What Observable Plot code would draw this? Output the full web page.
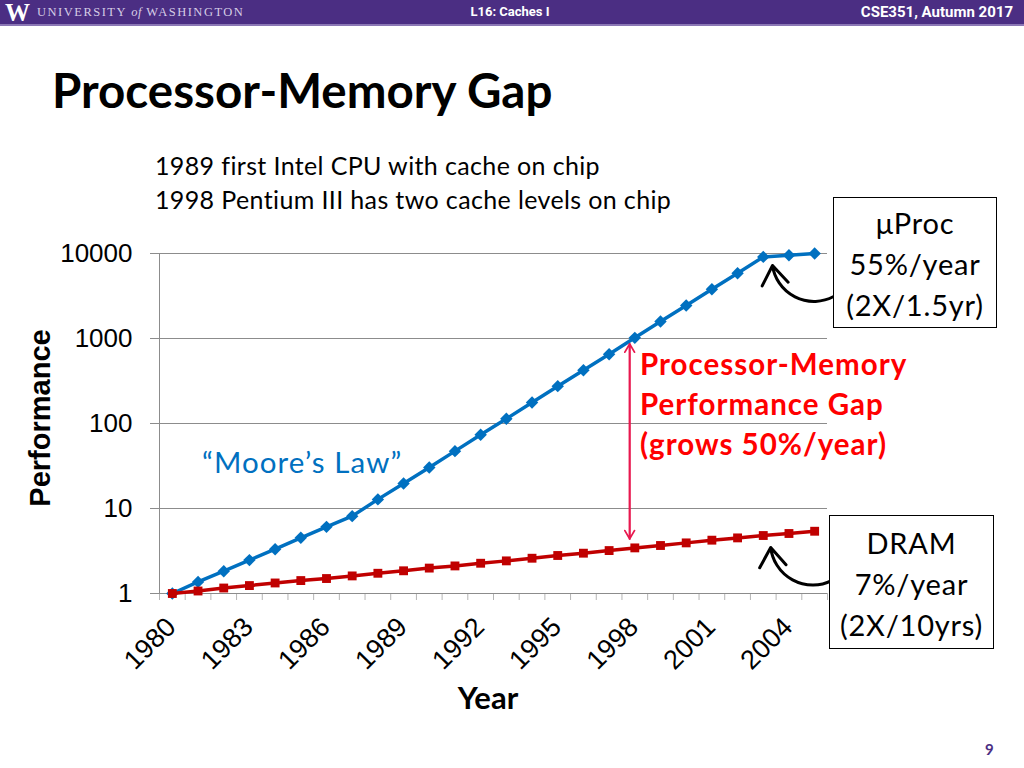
<!DOCTYPE html>
<html>
<head>
<meta charset="utf-8">
<script src="https://cdn.jsdelivr.net/npm/d3@7"></script>
<script src="https://cdn.jsdelivr.net/npm/@observablehq/plot@0.6"></script>
<style>
  html, body { margin: 0; padding: 0; background: #fff; }
  #page { position: relative; width: 1024px; height: 768px; overflow: hidden; background: #fff; }
  .abs { position: absolute; white-space: nowrap; }
  #chart { position: absolute; left: 0; top: 0; }
  .box { position: absolute; border: 1.5px solid #000; background: #fff; box-sizing: border-box;
         font-family: Lato, "Open Sans", sans-serif; font-size: 29px; letter-spacing: 0.8px; line-height: 41px; text-align: center; color: #000; }
</style>
</head>
<body>
<div id="page">
  <div class="abs" style="left:0;top:0;width:1024px;height:24px;background:#4b2e83;border-bottom:2px solid #8b77b5;"></div>
  <div class="abs" style="left:5px;top:1px;font-family:'Liberation Serif',serif;font-weight:bold;font-size:25px;line-height:24px;color:#fff;">W</div>
  <div class="abs" style="left:37px;top:5px;font-family:'Liberation Serif',serif;font-size:12.5px;line-height:15px;letter-spacing:1.5px;color:#d6cde6;">UNIVERSITY <i style="letter-spacing:0.5px">of</i> WASHINGTON</div>
  <div class="abs" style="left:460px;width:100px;text-align:center;top:4px;font-family:Roboto,sans-serif;font-weight:bold;font-size:13px;line-height:16px;color:#fff;">L16: Caches I</div>
  <div class="abs" style="right:11px;top:4px;font-family:Roboto,sans-serif;font-weight:bold;font-size:15px;line-height:16px;letter-spacing:0px;color:#fff;">CSE351, Autumn 2017</div>

  <div class="abs" style="left:52px;top:66px;font-family:Lato,sans-serif;font-weight:bold;font-size:47.5px;line-height:48px;color:#000;">Processor-Memory Gap</div>
  <div class="abs" style="left:155px;top:148px;font-family:Lato,sans-serif;font-size:25px;letter-spacing:0.37px;line-height:34px;color:#000;">1989 first Intel CPU with cache on chip<br>1998 Pentium III has two cache levels on chip</div>

  <div id="chart"></div>

  <div class="abs" style="left:640px;top:344px;font-family:Lato,sans-serif;font-weight:bold;font-size:29.5px;letter-spacing:1px;line-height:40px;color:#ff0000;">Processor-Memory<br>Performance Gap<br>(grows 50%/year)</div>
  <div class="abs" style="left:202px;top:442px;font-family:Lato,sans-serif;font-size:29.5px;letter-spacing:1.1px;line-height:40px;color:#0070c0;">“Moore’s Law”</div>

  <div class="box" style="left:833px;top:197px;width:164px;height:131px;padding-top:4px;">μProc<br>55%/year<br>(2X/1.5yr)</div>
  <div class="box" style="left:829px;top:515px;width:165px;height:134px;padding-top:6px;">DRAM<br>7%/year<br>(2X/10yrs)</div>

  <div class="abs" style="left:388px;width:200px;text-align:center;top:677px;font-family:Lato,sans-serif;font-weight:bold;font-size:31px;line-height:40px;color:#000;">Year</div>
  <div class="abs" style="left:-60px;top:400px;width:200px;height:36px;text-align:center;transform:rotate(-90deg);font-family:'Liberation Sans',Arial,sans-serif;font-weight:bold;font-size:29px;line-height:36px;color:#000;">Performance</div>

  <div class="abs" style="left:985px;top:740px;font-family:Lato,sans-serif;font-weight:bold;font-size:15px;line-height:18px;color:#4b2e83;">9</div>
</div>
<script>
// ---- data ----
const years = [1980, 1981, 1982, 1983, 1984, 1985, 1986, 1987, 1988, 1989, 1990, 1991, 1992,
               1993, 1994, 1995, 1996, 1997, 1998, 1999, 2000, 2001, 2002, 2003, 2004, 2005];
const processor = [1, 1.37, 1.83, 2.47, 3.32, 4.52, 6.08, 8.13, 12.8, 19.7, 30.4, 47.3, 73.6,
                   113.5, 176.6, 275, 424, 654, 1018, 1585, 2445, 3805, 5870, 9120, 9550, 10000];
const dram = [1, 1.07, 1.16, 1.24, 1.33, 1.42, 1.50, 1.61, 1.73, 1.85, 1.99, 2.11, 2.27,
              2.42, 2.60, 2.80, 2.98, 3.20, 3.44, 3.67, 3.94, 4.24, 4.51, 4.81, 5.08, 5.40];
const yTicks = [1, 10, 100, 1000, 10000];
const xTickLabels = [1980, 1983, 1986, 1989, 1992, 1995, 1998, 2001, 2004];
// annotation arrows (data coordinates): from the callout boxes to the series
const calloutArrows = [
  {x1: 2005.74, y1: 3120, x2: 2003.36, y2: 7230},
  {x1: 2005.66, y1: 1.42, x2: 2003.29, y2: 3.48}
];
const gapYear = 1998;

const rows = years.map((yr, i) => ({year: yr, proc: processor[i], dram: dram[i]}));
const edges = years.map(y => y - 0.5).concat([years[years.length - 1] + 0.5]);
const gi = years.indexOf(gapYear);
const gap = [{x: gapYear - 0.2, top: processor[gi], bottom: dram[gi]}];

const chart = Plot.plot({
  width: 1024,
  height: 768,
  marginLeft: 159,
  marginRight: 197,
  marginTop: 253,
  marginBottom: 175,
  style: {background: "transparent", fontFamily: "'Liberation Sans', Arial, sans-serif", color: "#000", overflow: "visible"},
  x: {domain: [edges[0], edges[edges.length - 1]], label: null},
  y: {type: "log", domain: [1, 10000], label: null},
  marks: [
    Plot.gridY(yTicks, {stroke: "#8c8c8c", strokeOpacity: 1}),
    Plot.ruleX([edges[0]], {stroke: "#8c8c8c"}),
    Plot.axisY({ticks: yTicks, tickSize: 9, tickPadding: 18, fontSize: 26, tickFormat: d => String(d),
                stroke: "#8c8c8c", fill: "#000", label: null}),
    Plot.axisX({ticks: edges, tickSize: 7, tickFormat: () => "", stroke: "#b5b5b5", label: null}),
    Plot.axisX({ticks: xTickLabels, tickSize: 0, tickPadding: 29, tickRotate: -45, fontSize: 27, dx: -1,
                tickFormat: d => String(d), fill: "#000", label: null}),
    Plot.ruleY([1], {stroke: "#8c8c8c"}),
    Plot.line(rows, {x: "year", y: "proc", stroke: "#0070c0", strokeWidth: 3.5}),
    Plot.dot(rows, {x: "year", y: "proc", symbol: "diamond2", r: 5.6, fill: "#0070c0", stroke: "none"}),
    Plot.line(rows, {x: "year", y: "dram", stroke: "#c00000", strokeWidth: 3.5}),
    Plot.dot(rows, {x: "year", y: "dram", symbol: "square", r: 5, fill: "#c00000", stroke: "none"}),
    Plot.arrow(gap, {x: "x", y1: "top", y2: "bottom", stroke: "#e8194f", strokeWidth: 1.8,
                     headLength: 8, insetStart: 6, insetEnd: 9}),
    Plot.arrow(gap, {x: "x", y1: "bottom", y2: "top", stroke: "#e8194f", strokeWidth: 1.8,
                     headLength: 8, insetStart: 9, insetEnd: 6}),
    Plot.arrow(calloutArrows, {x1: "x1", y1: "y1", x2: "x2", y2: "y2", bend: 55, stroke: "#000",
                               strokeWidth: 3, headLength: 13, headAngle: 70})
  ]
});
document.getElementById("chart").appendChild(chart);
</script>
</body>
</html>
